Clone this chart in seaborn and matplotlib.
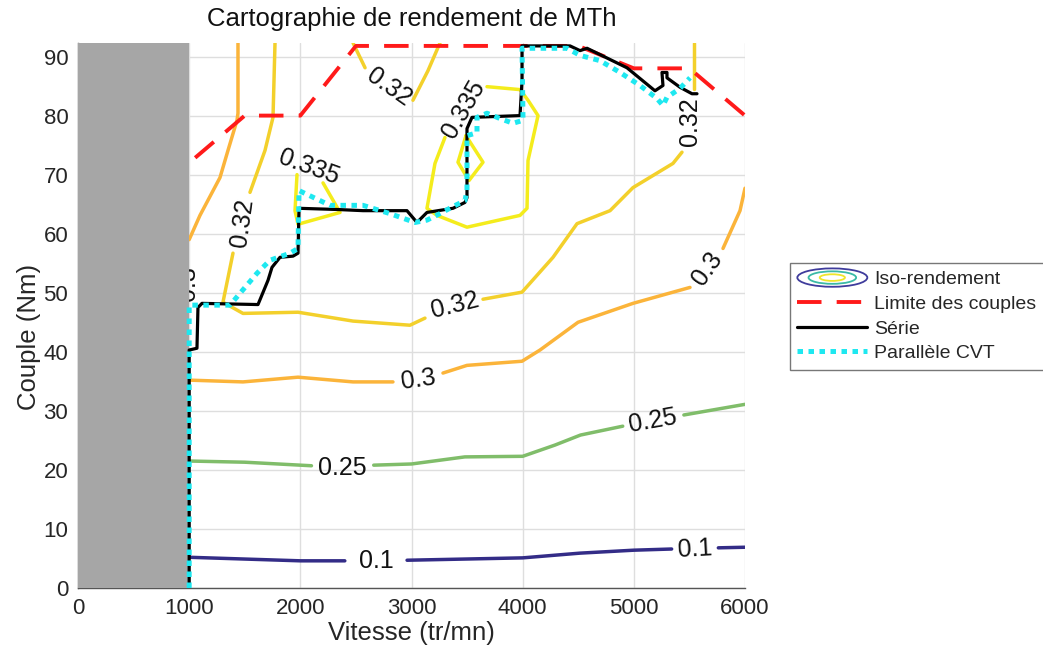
import numpy as np
import pandas as pd
import matplotlib
matplotlib.use("Agg")
import matplotlib.pyplot as plt
import seaborn as sns
from matplotlib.lines import Line2D
from matplotlib.patches import Ellipse
from matplotlib.legend_handler import HandlerBase

# ------------------------------------------------------------
# DONNEES
# ------------------------------------------------------------
# iso-rendement : chaque niveau = liste de segments (coupés aux étiquettes)
iso_010 = [
    ([1000, 2000, 2400], [5.2, 4.6, 4.6]),
    ([2960, 4000, 4515, 5000, 5340], [4.7, 5.1, 5.9, 6.4, 6.6]),
    ([5760, 6000], [6.8, 6.9]),
]
iso_025 = [
    ([1000, 1500, 2000, 2100], [21.5, 21.3, 20.8, 20.7]),
    ([2660, 3000, 3480, 4000, 4290, 4520, 4900], [20.8, 21.0, 22.2, 22.3, 24.2, 25.9, 27.4]),
    ([5450, 6000], [29.3, 31.1]),
]
iso_030 = [
    ([1000, 1484, 1979, 2474, 2833], [35.2, 34.9, 35.7, 34.9, 34.9]),
    ([3283, 3499, 3994, 4156, 4498, 4992, 5505], [36.4, 37.7, 38.4, 40.3, 45.0, 48.2, 50.9]),
    ([5802, 5955, 6000], [57.5, 63.9, 67.7]),
    ([1000, 1097, 1277, 1349, 1430, 1439, 1439], [59.0, 63.1, 69.5, 74.1, 79.2, 80.4, 92.3]),
]
iso_032 = [
    ([1772, 1754, 1682, 1547], [92.3, 79.7, 74.1, 67.0]),
    ([1394, 1304, 1484, 1979, 2474, 2986, 3121], [56.7, 48.4, 46.5, 46.7, 45.2, 44.5, 45.7]),
    ([3643, 3994, 4273, 4489, 4786, 4992, 5352, 5433], [48.9, 50.1, 56.0, 61.7, 63.9, 67.8, 71.9, 73.8]),
    ([5545, 5545], [84.5, 92.3]),
    ([2474, 2582], [92.3, 88.1]),
    ([3013, 3148, 3256], [82.6, 87.6, 92.3]),
]
iso_0335 = [
    ([1970, 1952, 1979, 2357, 2204], [70.0, 63.9, 61.6, 63.6, 68.6]),
    ([3301, 3211, 3139, 3229, 3499, 3976, 4039, 4048, 4138, 4048, 3976, 3679],
     [76.3, 71.9, 64.3, 63.1, 61.1, 63.1, 64.3, 72.4, 80.0, 82.6, 84.4, 84.9]),
    ([3490, 3643, 3517, 3418, 3490], [76.6, 72.1, 69.0, 72.1, 76.6]),
]
niveaux = ["0.1", "0.25", "0.3", "0.32", "0.335"]

# étiquettes des courbes : (texte, vitesse, couple, rotation)
etiquettes = [
    ("0.1", 2680, 4.6, 0), ("0.1", 5550, 6.6, 3),
    ("0.25", 2380, 20.4, 0), ("0.25", 5170, 28.3, 10),
    ("0.3", 3060, 35.2, 8), ("0.3", 5660, 54.0, 55), ("0.3", 985, 51.5, 90),
    ("0.32", 1478, 61.8, 82), ("0.32", 3390, 47.9, 14), ("0.32", 5505, 79.0, 90),
    ("0.32", 2800, 84.8, -35),
    ("0.335", 2075, 71.3, -20), ("0.335", 3470, 81.0, 60),
]

# limite des couples
lim_vitesse = [0, 1000, 1500, 2000, 2500, 3000, 3500, 4000, 4500, 5000, 5500, 6000]
lim_couple = [72, 72, 80, 80, 91.8, 91.8, 91.8, 91.8, 91.8, 88, 88, 80]

# point de fonctionnement - série
serie_vitesse = [1000, 1000, 1070, 1079, 1115, 1619, 1709, 1745, 1817, 1934, 1979, 1988,
                 2330, 2564, 2959, 3049, 3139, 3373, 3481, 3499, 3499, 3544, 3976, 3994,
                 3994, 4426, 4516, 4579, 4938, 5190, 5262, 5253, 5298, 5298, 5415, 5523, 5568]
serie_couple = [0, 40.3, 40.6, 47.5, 48.2, 48.0, 52.1, 54.3, 56.0, 56.2, 56.7, 64.3,
                64.1, 63.9, 63.9, 61.9, 63.6, 64.3, 65.3, 66.1, 77.8, 79.7, 80.0, 85.9,
                91.8, 91.8, 91.0, 91.4, 88.1, 84.2, 85.1, 87.3, 87.3, 86.4, 84.8, 83.7, 83.7]

# point de fonctionnement - parallèle CVT
cvt_vitesse = [1000, 1000, 1367, 1457, 1610, 1727, 1907, 1979, 1988, 2267, 2564, 2806,
               3031, 3139, 3256, 3373, 3481, 3499, 3499, 3589, 3589, 3679, 3796, 3913,
               4003, 3994, 4399, 4516, 4696, 4876, 5055, 5208, 5262, 5298, 5415, 5505]
cvt_couple = [0, 47.9, 47.9, 49.9, 53.3, 55.5, 56.7, 57.5, 67.3, 64.8, 64.8, 63.4,
              61.9, 62.3, 63.4, 64.6, 65.6, 67.3, 76.6, 77.1, 79.7, 80.4, 79.5, 78.7,
              79.2, 91.4, 91.4, 90.2, 89.3, 87.3, 85.1, 82.9, 81.7, 83.1, 84.6, 86.4]

# ------------------------------------------------------------
# TABLE LONGUE POUR LES ISO-RENDEMENTS
# ------------------------------------------------------------
rows = []
seg_id = 0
for niv, segs in zip(niveaux, [iso_010, iso_025, iso_030, iso_032, iso_0335]):
    for xs, ys in segs:
        for xv, yv in zip(xs, ys):
            rows.append({"vitesse": xv, "couple": yv, "niveau": niv, "seg": seg_id})
        seg_id += 1
df_iso = pd.DataFrame(rows)

palette = {"0.1": "#332c87", "0.25": "#80bd6a", "0.3": "#fbb43a",
           "0.32": "#f3d02b", "0.335": "#f4ec1c"}

# ------------------------------------------------------------
# FIGURE
# ------------------------------------------------------------
sns.set_style("white")
plt.rcParams["font.family"] = ["Liberation Sans", "DejaVu Sans"]

fig = plt.figure(figsize=(10.43, 6.51), dpi=100)
ax = fig.add_axes([0.0748, 0.0968, 0.6395, 0.8372])

ax.axvspan(0, 1000, color="#a6a6a6", zorder=6, lw=0)

sns.lineplot(data=df_iso, x="vitesse", y="couple", hue="niveau", units="seg",
             estimator=None, sort=False, palette=palette, legend=False,
             linewidth=2.5, ax=ax, zorder=3)

for txt, xv, yv, rot in etiquettes:
    ax.text(xv, yv, txt, rotation=rot, ha="center", va="center", fontsize=18,
            color="#111111", rotation_mode="anchor", zorder=4)

sns.lineplot(x=lim_vitesse, y=lim_couple, sort=False, estimator=None, color="#ff1a1a",
             linewidth=2.8, linestyle=(0, (6.3, 3.9)), ax=ax, zorder=5, clip_on=False)
sns.lineplot(x=serie_vitesse, y=serie_couple, sort=False, estimator=None, color="black",
             linewidth=2.3, ax=ax, zorder=7)
sns.lineplot(x=cvt_vitesse, y=cvt_couple, sort=False, estimator=None, color="#1ee8f0",
             linewidth=3.6, linestyle=(0, (1.1, 1.1)), ax=ax, zorder=8)

ax.set_xlim(0, 6000)
ax.set_ylim(0, 92.3)
ax.set_xticks(range(0, 6001, 1000))
ax.set_yticks(range(0, 91, 10))
ax.grid(True, color="#dedede", linewidth=1.0)
ax.set_axisbelow(True)
for s in ["top", "right"]:
    ax.spines[s].set_visible(False)
for s in ["left", "bottom"]:
    ax.spines[s].set_color("#555555")
    ax.spines[s].set_linewidth(1.0)
ax.tick_params(labelsize=16, colors="#262626", length=0, pad=7)

ax.set_title("Cartographie de rendement de MTh", fontsize=18.5, color="#111111", pad=12)
ax.set_xlabel("Vitesse (tr/mn)", fontsize=18.5, color="#262626", labelpad=2)
ax.set_ylabel("Couple (Nm)", fontsize=18.5, color="#262626")
ax.yaxis.set_label_coords(-0.055, 0.46)


class HandlerIso(HandlerBase):
    def create_artists(self, legend, orig_handle, xdescent, ydescent,
                       width, height, fontsize, trans):
        cx = width / 2 - xdescent
        cy = height / 2 - ydescent
        arts = []
        for f, c in [(1.0, "#3f3c9c"), (0.68, "#3bbaa6"), (0.36, "#efe52a")]:
            arts.append(Ellipse((cx, cy), width * f, height * 1.35 * f, fill=False,
                                edgecolor=c, lw=1.3, transform=trans))
        return arts


iso_handle = Line2D([], [])
handles = [
    iso_handle,
    Line2D([], [], color="#ff1a1a", lw=2.8, linestyle=(0, (6.3, 3.9))),
    Line2D([], [], color="black", lw=2.3),
    Line2D([], [], color="#1ee8f0", lw=3.6, linestyle=(0, (1.1, 1.1))),
]
labels = ["Iso-rendement", "Limite des couples", "Série", "Parallèle CVT"]
leg = fig.legend(handles, labels, loc="upper left", bbox_to_anchor=(0.757, 0.596),
                 bbox_transform=fig.transFigure, fontsize=14, frameon=True,
                 fancybox=False, edgecolor="#555555", handlelength=3.6,
                 handletextpad=0.35, labelspacing=0.36, borderpad=0.4,
                 borderaxespad=0.0, handler_map={iso_handle: HandlerIso()})
leg.get_frame().set_linewidth(1.0)

fig.savefig("out.png", dpi=100)
